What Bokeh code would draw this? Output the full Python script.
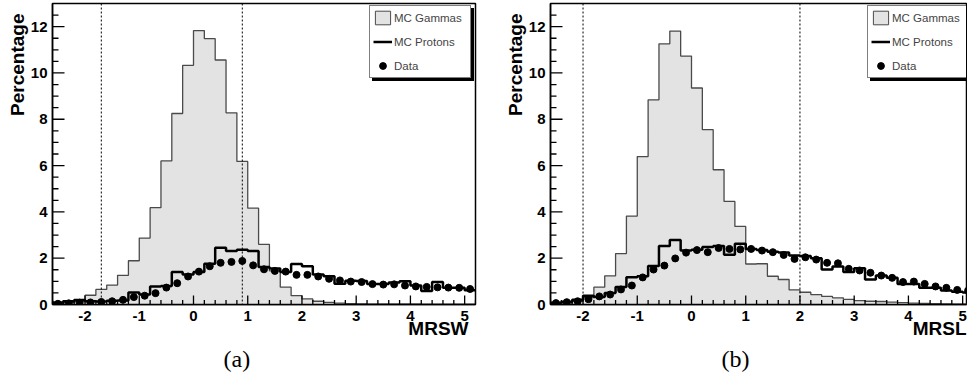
import math
import numpy as np
from bokeh.plotting import figure
from bokeh.layouts import row
from bokeh.models import (Range1d, SingleIntervalTicker, Span, Legend,
                          LegendItem, Title, NumeralTickFormatter)
from bokeh.embed import file_html
from bokeh.resources import INLINE

# Histogram binning (MRSW / MRSL)
BIN_LO = -2.6
BIN_W = 0.2
N_BINS = 39

# axis ticks
x_major = [-2, -1, 0, 1, 2, 3, 4, 5]
y_major = [0, 2, 4, 6, 8, 10, 12]

# ---------------- Panel (a): MRSW ----------------
gamma_a = [0.05, 0.08, 0.12, 0.40, 0.65, 0.84, 1.26, 1.89, 2.87, 4.18,
           6.20, 8.25, 10.33, 11.83, 11.48, 10.56, 8.28, 6.18, 4.16, 2.60,
           1.45, 0.75, 0.38, 0.24, 0.14, 0.09, 0.06, 0.04, 0.03, 0.02,
           0.02, 0.01, 0.01, 0.01, 0.0, 0.0, 0.0, 0.0, 0.0]
protons_a = [0.09, 0.14, 0.19, 0.14, 0.13, 0.16, 0.17, 0.52, 0.43, 0.78,
             0.80, 1.40, 1.30, 1.40, 1.76, 2.45, 2.31, 2.37, 2.31, 1.62,
             1.55, 1.40, 1.75, 1.65, 1.30, 1.22, 0.90, 1.03, 1.02, 0.88,
             0.88, 0.95, 1.00, 0.82, 0.58, 0.97, 0.72, 0.72, 0.62]
data_a = [0.03, 0.05, 0.08, 0.09, 0.11, 0.14, 0.20, 0.32, 0.38, 0.49,
          0.73, 0.92, 1.21, 1.42, 1.65, 1.80, 1.84, 1.88, 1.69, 1.52,
          1.45, 1.42, 1.28, 1.28, 1.21, 1.11, 1.04, 0.99, 0.97, 0.88,
          0.86, 0.87, 0.82, 0.78, 0.76, 0.74, 0.73, 0.72, 0.67]
cuts_a = [-1.7, 0.9]

# ---------------- Panel (b): MRSL ----------------
gamma_b = [0.03, 0.06, 0.12, 0.30, 0.75, 1.24, 2.20, 3.82, 6.39, 8.84,
           11.26, 11.81, 10.73, 9.35, 7.55, 5.82, 4.45, 3.37, 1.75, 1.76,
           1.22, 1.08, 0.63, 0.53, 0.43, 0.35, 0.29, 0.22, 0.17, 0.14,
           0.13, 0.10, 0.08, 0.06, 0.05, 0.04, 0.03, 0.02, 0.02]
protons_b = [0.08, 0.12, 0.20, 0.38, 0.32, 0.50, 0.76, 1.18, 1.22, 1.66,
             2.53, 2.79, 2.33, 2.36, 2.48, 2.53, 2.15, 2.62, 2.40, 2.35,
             2.28, 2.25, 2.12, 2.10, 2.00, 1.51, 1.64, 1.40, 1.57, 1.08,
             1.25, 1.15, 0.89, 0.88, 0.72, 0.72, 0.60, 0.55, 0.52]
data_b = [0.06, 0.10, 0.14, 0.23, 0.35, 0.43, 0.65, 0.82, 1.17, 1.51,
          1.68, 1.99, 2.24, 2.35, 2.26, 2.44, 2.40, 2.38, 2.40, 2.33,
          2.26, 2.14, 1.97, 2.04, 1.94, 1.80, 1.78, 1.54, 1.47, 1.37,
          1.25, 1.15, 0.97, 0.99, 0.89, 0.78, 0.72, 0.63, 0.60]
cuts_b = [-2.0, 2.0]

FONT = "Liberation Sans"
FILL = "#e3e3e3"
EDGE = "#4a4a4a"

FRAME_H = 301
SCALE = 423 / 7.8  # px per unit


def make_panel(gamma, protons, data, cuts, xlabel, caption,
               width, b_left, b_right, xlabel_offset):
    frame_w = width - b_left - b_right
    x_end = BIN_LO + frame_w / SCALE
    edges = BIN_LO + BIN_W * np.arange(N_BINS + 1)
    centers = edges[:-1] + BIN_W / 2

    p = figure(width=width, height=385, output_backend="svg",
               toolbar_location=None, title=None,
               x_range=Range1d(BIN_LO, x_end), y_range=Range1d(0, 13.0),
               min_border_left=b_left, min_border_right=b_right,
               min_border_top=3, min_border_bottom=81)
    p.xgrid.visible = False
    p.ygrid.visible = False
    p.outline_line_color = "black"
    p.outline_line_width = 1.5
    p.background_fill_color = "white"
    p.border_fill_color = "white"

    # MC gammas: filled step histogram
    gx = np.concatenate([[edges[0]], edges])
    gy = np.concatenate([[0.0], gamma, [gamma[-1]]])
    p.varea_step(x=edges, y1=0, y2=list(gamma) + [gamma[-1]],
                 step_mode="after", fill_color=FILL)
    p.step(x=gx, y=gy, mode="after", line_color=EDGE, line_width=1.3)

    # cut lines
    for c in cuts:
        p.add_layout(Span(location=c, dimension="height", line_color="black",
                          line_width=1, line_dash="2 2"))

    # MC protons
    py = np.concatenate([[0.0], protons, [protons[-1]]])
    r_prot = p.step(x=gx, y=py, mode="after", line_color="black",
                    line_width=2.5)
    # Data
    r_data = p.scatter(x=centers, y=data, marker="circle", size=7,
                       color="black")

    # legend proxy for the filled histogram (zero-area box at first edge)
    r_gam = p.quad(left=edges[:1], right=edges[:1], top=[0], bottom=[0],
                   fill_color=FILL, line_color=EDGE, line_width=1)
    # invisible proxy for the legend shadow
    r_none = p.quad(left=edges[:1], right=edges[:1], top=[0], bottom=[0],
                    fill_alpha=0, line_alpha=0)

    # inward tick marks (ROOT style) drawn on the frame edges
    x_minor = [round(v, 1) for v in edges if abs(v - round(v)) > 1e-6]
    y_minor = [v + 0.5 for v in np.arange(0, 13, 0.5)
               if (v + 0.5) % 2 != 0 and v + 0.5 < 13]
    p.scatter(x=x_major, y=[0] * len(x_major), marker="dash",
              angle=math.pi / 2, size=18, line_color="black", line_width=1.3)
    p.scatter(x=x_minor, y=[0] * len(x_minor), marker="dash",
              angle=math.pi / 2, size=9, line_color="black", line_width=1.3)
    p.scatter(x=[BIN_LO] * len(y_major), y=y_major, marker="dash",
              size=24, line_color="black", line_width=1.3)
    p.scatter(x=[BIN_LO] * len(y_minor), y=y_minor, marker="dash",
              size=12, line_color="black", line_width=1.3)

    # axes (labels only; ticks drawn above)
    xa = p.xaxis[0]
    xa.ticker = SingleIntervalTicker(interval=1, num_minor_ticks=5)
    ya = p.yaxis[0]
    ya.ticker = SingleIntervalTicker(interval=2, num_minor_ticks=4)
    for ax in (xa, ya):
        ax.formatter = NumeralTickFormatter(format="0")
        ax.major_tick_in = 0
        ax.major_tick_out = 0
        ax.minor_tick_in = 0
        ax.minor_tick_out = 0
        ax.axis_line_width = 1.5
        ax.major_label_text_font = FONT
        ax.major_label_text_font_style = "bold"
        ax.major_label_text_font_size = "15px"
        ax.major_label_text_color = "black"
    xa.major_label_standoff = 6
    ya.major_label_standoff = 5

    # legend (with a shadow legend drawn first)
    lx, lh = 317, 71
    ly = FRAME_H - 4 - lh
    common = dict(padding=3, spacing=7, glyph_width=19, glyph_height=17,
                  label_height=17, label_width=73, label_standoff=2, margin=0,
                  label_text_font=FONT, label_text_font_size="11.5px")
    shadow = Legend(items=[LegendItem(label=" ", renderers=[r_none]),
                           LegendItem(label="  ", renderers=[r_none]),
                           LegendItem(label="   ", renderers=[r_none])],
                    location=(lx + 2.5, ly - 2.5), border_line_color="black",
                    background_fill_color="black", background_fill_alpha=1,
                    label_text_color="black", **common)
    p.add_layout(shadow)
    legend = Legend(items=[LegendItem(label="MC Gammas", renderers=[r_gam]),
                           LegendItem(label="MC Protons", renderers=[r_prot]),
                           LegendItem(label="Data", renderers=[r_data])],
                    location=(lx, ly), border_line_color="black",
                    border_line_width=1, background_fill_color="white",
                    background_fill_alpha=1, **common)
    p.add_layout(legend)

    # axis titles and caption
    p.add_layout(Title(text="Percentage", align="right", offset=10,
                       standoff=0, text_font=FONT, text_font_style="bold",
                       text_color="black", text_font_size="19px"), "left")
    p.add_layout(Title(text=xlabel, align="right", offset=xlabel_offset,
                       standoff=-15, text_font=FONT, text_font_style="bold",
                       text_color="black", text_font_size="19px"), "below")
    p.add_layout(Title(text=caption, align="left", offset=171,
                       standoff=24, text_font="Liberation Serif",
                       text_font_style="normal", text_color="black",
                       text_font_size="24px"), "below")
    return p


pa = make_panel(gamma_a, protons_a, data_a, cuts_a, "MRSW", "(a)",
                500, 52, 25, 7)
pb = make_panel(gamma_b, protons_b, data_b, cuts_b, "MRSL", "(b)",
                467, 50, 1, 0)

layout = row(pa, pb)
open("out.html", "w").write(file_html(layout, INLINE))
